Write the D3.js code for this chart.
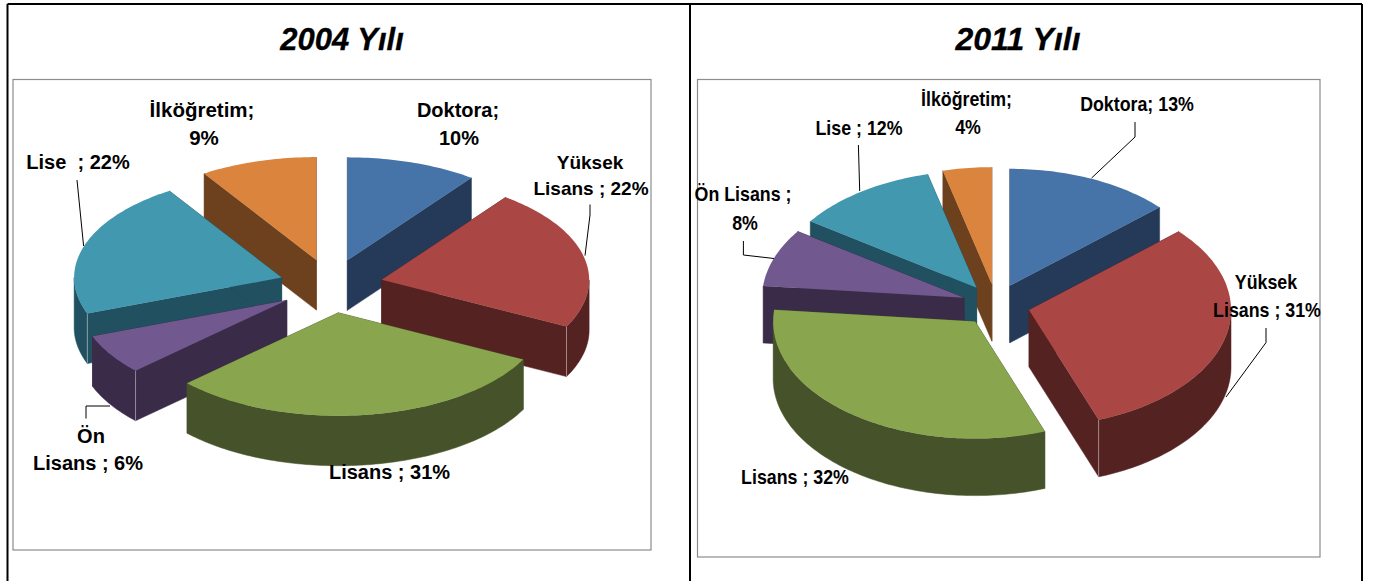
<!DOCTYPE html>
<html>
<head>
<meta charset="utf-8">
<script src="https://cdnjs.cloudflare.com/ajax/libs/d3/7.8.5/d3.min.js"></script>
<style>
    body { margin: 0; background: #fff; }
    text { font-family: "Liberation Sans", Arial, sans-serif; font-weight: bold; fill: #000; white-space: pre; }
</style>
</head>
<body>
<div id="chart-area"></div>
<script>
// data
var categories = ["Doktora", "Yüksek Lisans", "Lisans", "Ön Lisans", "Lise", "İlköğretim"];
var values2004 = [10.2, 22.3, 30.5, 6.3, 21.6, 9.1];
var values2011 = [13.3, 31.1, 32.2, 8.0, 11.5, 3.9];

var labels2004 = [["Doktora;", "10%"], ["Yüksek", "Lisans ; 22%"], ["Lisans ; 31%"], ["Ön", "Lisans ; 6%"], ["Lise  ; 22%"], ["İlköğretim;", "9%"]];
var labels2011 = [["Doktora; 13%"], ["Yüksek", "Lisans ; 31%"], ["Lisans ; 32%"], ["Ön Lisans ;", "8%"], ["Lise ; 12%"], ["İlköğretim;", "4%"]];

var topColors = ["#4674A8", "#AA4644", "#89A54E", "#71588F", "#4198AF", "#DB843D"];
var wallColors = ["#243A58", "#552222", "#46532A", "#3A2C48", "#215060", "#6E411E"];

var width = 1376;
var height = 581;

var svg = d3.select("#chart-area")
    .append("svg")
        .attr("width", width)
        .attr("height", height)
        .style("display", "block");

var topColor = d3.scaleOrdinal().domain(categories).range(topColors);
var wallColor = d3.scaleOrdinal().domain(categories).range(wallColors);

var pie = d3.pie().sort(null);
var closedLine = d3.line().curve(d3.curveLinearClosed);

// table lines
var tableLines = [[7.5, 4, 1362, 4], [7.5, 4, 7.5, 581], [690, 4, 690, 581], [1362, 4, 1362, 581]];
svg.selectAll(".table-line")
    .data(tableLines)
    .enter()
    .append("line")
        .attr("class", "table-line")
        .attr("x1", (d) => d[0])
        .attr("y1", (d) => d[1])
        .attr("x2", (d) => d[2])
        .attr("y2", (d) => d[3])
        .attr("stroke", "#000")
        .attr("stroke-width", 2);

function drawChart(o) {
    svg.append("text")
        .attr("x", o.titleX)
        .attr("y", 50)
        .attr("text-anchor", "middle")
        .attr("font-size", o.titleSize)
        .style("font-style", "italic")
        .style("stroke", "#000")
        .style("stroke-width", 0.3)
        .text(o.title);

    svg.append("rect")
        .attr("x", o.box[0])
        .attr("y", o.box[1])
        .attr("width", o.box[2])
        .attr("height", o.box[3])
        .attr("fill", "#fff")
        .attr("stroke", "#8c8c8c")
        .attr("stroke-width", 1.2);

    var slices = pie(o.values).map((d, i) => {
        var mid = (d.startAngle + d.endAngle) / 2;
        return {
            name: categories[i],
            start: d.startAngle,
            end: d.endAngle,
            x: o.cx + o.explodeX * Math.sin(mid),
            y: o.cy - o.explodeY * Math.cos(mid)
        };
    });

    function rim(s, a) {
        return [s.x + o.rx * Math.sin(a), s.y - o.ry * Math.cos(a)];
    }
    function arcPoints(s, a0, a1) {
        var n = Math.max(2, Math.ceil((a1 - a0) / 0.02));
        return d3.range(n + 1).map((k) => rim(s, a0 + (a1 - a0) * k / n));
    }
    function down(p) {
        return [p[0], p[1] + o.depth];
    }

    // back to front, the slice with the highest tip goes first
    slices.sort((a, b) => a.y - b.y);

    var g = svg.append("g");
    slices.forEach((s) => {
        var apex = [s.x, s.y];
        var faces = [];

        [s.start, s.end].forEach((a) => {
            var p = rim(s, a);
            faces.push([apex, p, down(p), down(apex)]);
        });

        // outer wall, only the part turned to the viewer
        var a0 = Math.max(s.start, Math.PI / 2);
        var a1 = Math.min(s.end, Math.PI * 1.5);
        if (a1 > a0) {
            var pts = arcPoints(s, a0, a1);
            faces.push(pts.concat(pts.slice().reverse().map(down)));
        }

        g.selectAll(null)
            .data(faces)
            .enter()
            .append("path")
                .attr("d", (d) => closedLine(d))
                .attr("fill", wallColor(s.name))
                .attr("stroke", wallColor(s.name))
                .attr("stroke-width", 0.5);

        // pale seam where a cut face meets the outer wall
        var seam = null;
        if (s.end > Math.PI / 2 && s.end < Math.PI) seam = s.end;
        if (s.start > Math.PI && s.start < Math.PI * 1.5) seam = s.start;
        if (seam !== null) {
            var c = rim(s, seam);
            g.append("line")
                .attr("x1", c[0])
                .attr("y1", c[1])
                .attr("x2", c[0])
                .attr("y2", c[1] + o.depth)
                .attr("stroke", "#fff")
                .attr("stroke-opacity", 0.55)
                .attr("stroke-width", 0.8);
        }

        g.append("path")
            .attr("d", closedLine([apex].concat(arcPoints(s, s.start, s.end))))
            .attr("fill", topColor(s.name));
    });

    // leader lines
    var lead = d3.line();
    svg.selectAll(null)
        .data(o.leaders)
        .enter()
        .append("path")
            .attr("d", (d) => lead(d))
            .attr("fill", "none")
            .attr("stroke", "#000")
            .attr("stroke-width", 1);

    // labels, a bit stretched upward like the pasted picture
    o.labels.forEach((lines, i) => {
        lines.forEach((line, k) => {
            svg.append("text")
                .attr("transform", "translate(" + o.labelPos[i][k][0] + "," + (o.labelPos[i][k][1] + 6.5) + ") scale(1," + o.stretch + ")")
                .attr("text-anchor", "middle")
                .attr("font-size", o.labelSizes[i])
                .text(line);
        });
    });
}

drawChart({
    title: "2004 Yılı",
    titleX: 342,
    titleSize: "31px",
    box: [13, 79.5, 638, 470.5],
    values: values2004,
    labels: labels2004,
    cx: 331, cy: 286, rx: 207.5, ry: 103, depth: 50,
    explodeX: 52, explodeY: 27,
    labelSizes: ["20px", "19px", "20px", "20px", "20px", "20.5px"],
    stretch: 1,
    labelPos: [
        [[458, 110], [459, 138]],
        [[590, 162], [591, 188]],
        [[389.5, 472]],
        [[91, 436], [88, 463]],
        [[78, 162]],
        [[202, 110], [204, 138]]
    ],
    leaders: [
        [[77, 180], [83.6, 246]],
        [[590, 204.5], [590, 215], [585, 255.6]],
        [[86, 418.5], [86, 406], [110, 406]]
    ]
});

drawChart({
    title: "2011 Yılı",
    titleX: 1018,
    titleSize: "32px",
    box: [697.5, 79.5, 622.5, 477.5],
    values: values2011,
    labels: labels2011,
    cx: 996, cy: 305, rx: 202, ry: 117, depth: 57,
    explodeX: 34, explodeY: 21,
    labelSizes: ["17.8px", "17.8px", "17.8px", "17.8px", "17.8px", "17.8px"],
    stretch: 1.15,
    labelPos: [
        [[1137, 104]],
        [[1266, 282], [1267, 310]],
        [[795, 477]],
        [[743, 194.5], [745, 223]],
        [[859, 128]],
        [[966.5, 99], [968, 127]]
    ],
    leaders: [
        [[1135, 122], [1135, 137], [1091.6, 178]],
        [[858.4, 145], [859.7, 191]],
        [[743.4, 241], [743.4, 255], [774, 258.5]],
        [[1266, 328], [1266, 342.6], [1226, 397]]
    ]
});
</script>
</body>
</html>
